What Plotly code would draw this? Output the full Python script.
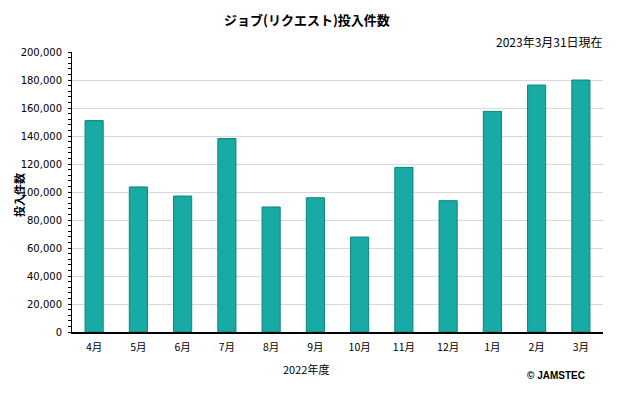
import plotly.graph_objects as go

months = ["4月", "5月", "6月", "7月", "8月", "9月", "10月", "11月", "12月", "1月", "2月", "3月"]
jobs = [151000, 103600, 97100, 138200, 89300, 95900, 67800, 117600, 93800, 157600, 176400, 180000]
y_ticks = [0, 20000, 40000, 60000, 80000, 100000, 120000, 140000, 160000, 180000, 200000]
y_tick_labels = [f"{v:,}" for v in y_ticks]

title_text = "ジョブ(リクエスト)投入件数"
date_text = "2023年3月31日現在"
x_title = "2022年度"
y_title = "投入件数"
credit = "© JAMSTEC"

W, H = 640, 395
ML, MR, MT, MB = 72, 37, 52, 63

fig = go.Figure()
fig.add_trace(go.Bar(
    x=months, y=jobs,
    marker=dict(color="#18aaa4", line=dict(color="#11837f", width=1)),
    width=0.41,
    hoverinfo="x+y",
))

tick_font = dict(family="DejaVu Sans, Verdana, sans-serif", size=10, color="#000000")
jp_font = "Noto Sans CJK JP, sans-serif"

fig.update_layout(
    template="none",
    width=W, height=H,
    margin=dict(l=ML, r=MR, t=MT, b=MB, pad=0),
    paper_bgcolor="white", plot_bgcolor="white",
    showlegend=False,
    xaxis=dict(
        type="category", automargin=False,
        showline=True, linecolor="#000000", linewidth=1.5,
        ticks="", showgrid=False,
        tickfont=dict(family=jp_font, size=10.5, color="#000000"),
        ticklabelstandoff=5,
        range=[-0.5, 11.5],
    ),
    yaxis=dict(
        range=[0, 200000], automargin=False,
        tickvals=y_ticks, ticktext=y_tick_labels,
        showline=True, linecolor="#000000", linewidth=1,
        ticks="outside", ticklen=3, tickcolor="#000000",
        minor=dict(dtick=4000, ticks="outside", ticklen=3, tickcolor="#000000", showgrid=False),
        showgrid=True, gridcolor="#d6d9d9", gridwidth=1,
        tickfont=tick_font,
        ticklabelstandoff=4,
        zeroline=False,
    ),
)


def paper_ann(text, cx, cy, size, xanchor="center", bold=False, angle=0, family=jp_font):
    pw = W - ML - MR
    ph = H - MT - MB
    x = (cx - ML) / pw
    y = (H - MB - cy) / ph
    fig.add_annotation(
        text=f"<b>{text}</b>" if bold else text,
        xref="paper", yref="paper", x=x, y=y,
        xanchor=xanchor, yanchor="middle",
        showarrow=False, textangle=angle,
        font=dict(family=family, size=size, color="#000000"),
    )


paper_ann(title_text, 307, 20, 13, bold=True)
paper_ann(date_text, 605, 42, 12, xanchor="right")
paper_ann(x_title, 306, 369, 11)
paper_ann(y_title, 19, 195, 11, angle=-90, bold=True)
paper_ann(credit, 587, 376, 10, xanchor="right", bold=True, family="Liberation Sans, Arial, sans-serif")

fig.write_html(
    "out.html",
    config={"displayModeBar": False},
    post_script="document.body.style.margin='0';document.body.style.padding='0';",
)
